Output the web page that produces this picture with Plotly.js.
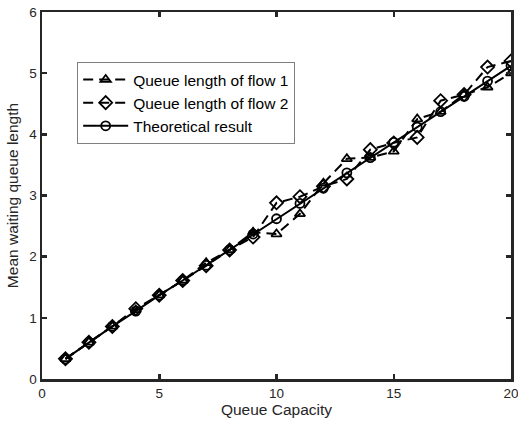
<!DOCTYPE html>
<html><head><meta charset="utf-8">
<script src="https://cdn.plot.ly/plotly-3.0.1.min.js"></script>
<style>body{margin:0;background:#fff}#c{width:518px;height:428px}</style>
</head><body><div id="c"></div>
<script>
const capacity = [1,2,3,4,5,6,7,8,9,10,11,12,13,14,15,16,17,18,19,20];
const flow1 = [0.33,0.60,0.86,1.13,1.37,1.61,1.90,2.11,2.40,2.37,2.70,3.20,3.60,3.62,3.72,4.25,4.37,4.65,4.77,5.00];
const flow2 = [0.33,0.60,0.86,1.15,1.37,1.61,1.85,2.11,2.32,2.88,2.98,3.15,3.27,3.75,3.86,3.95,4.55,4.65,5.10,5.20];
const theory = [0.33,0.60,0.86,1.11,1.37,1.61,1.86,2.11,2.37,2.62,2.87,3.12,3.37,3.62,3.87,4.12,4.37,4.62,4.87,5.12];
const names = ["Queue length of flow 1","Queue length of flow 2","Theoretical result"];

const mk = (sym, sz) => ({symbol: sym, size: sz, color: '#000', line: {color: '#000', width: 1.8}});
const data = [
  {x: capacity, y: flow1, name: names[0], mode: 'lines+markers', line: {color: '#000', width: 2, dash: '10px,6px'}, marker: mk('triangle-up-open', 9)},
  {x: capacity, y: flow2, name: names[1], mode: 'lines+markers', line: {color: '#000', width: 2, dash: '10px,6px'}, marker: mk('diamond-open', 10)},
  {x: capacity, y: theory, name: names[2], mode: 'lines+markers', line: {color: '#000', width: 2}, marker: mk('circle-open', 9)}
];
const axis = {showgrid: false, zeroline: false, showline: true, mirror: 'ticks', linecolor: '#262626', linewidth: 2.5,
  ticks: 'inside', ticklen: 5, tickwidth: 2.5, tickcolor: '#262626', ticklabeloverflow: 'allow',
  tickfont: {family: 'Liberation Sans, Arial, sans-serif', size: 13.5, color: '#262626'}};
const layout = {
  width: 518, height: 428,
  margin: {l: 42, r: 7, t: 12, b: 49},
  paper_bgcolor: '#fff', plot_bgcolor: '#fff',
  showlegend: true,
  font: {family: 'Liberation Sans, Arial, sans-serif', color: '#262626'},
  xaxis: Object.assign({}, axis, {range: [0, 20], tickvals: [0,5,10,15,20], title: {text: 'Queue Capacity', font: {size: 15.5, color: '#262626'}, standoff: 3}}),
  yaxis: Object.assign({}, axis, {range: [0, 6], tickvals: [0,1,2,3,4,5,6], title: {text: 'Mean waiting queue length', font: {size: 15.5, color: '#262626'}, standoff: 7}}),
  legend: {x: 0.075, y: 0.864, xanchor: 'left', yanchor: 'top', bgcolor: '#fff', bordercolor: '#7f7f7f', borderwidth: 1,
    font: {size: 15.5, color: '#000'}, tracegroupgap: 0, itemwidth: 45}
};
Plotly.newPlot('c', data, layout, {displayModeBar: false, staticPlot: true});
</script></body></html>
